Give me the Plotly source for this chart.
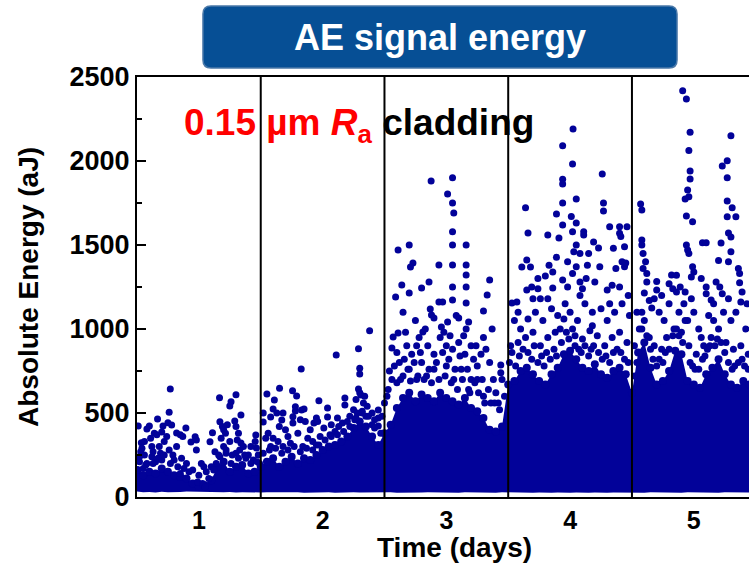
import plotly.graph_objects as go

# dense band of AE hits (upper / lower edge of the solid blue region), per 0.05 day
core_x = [0.50, 0.55, 0.60, 0.65, 0.70, 0.75, 0.80, 0.85, 0.90, 0.95,
          1.00, 1.05, 1.10, 1.15, 1.20, 1.25, 1.30, 1.35, 1.40, 1.45,
          1.50, 1.55, 1.60, 1.65, 1.70, 1.75, 1.80, 1.85, 1.90, 1.95,
          2.00, 2.05, 2.10, 2.15, 2.20, 2.25, 2.30, 2.35, 2.40, 2.45,
          2.50, 2.55, 2.60, 2.65, 2.70, 2.75, 2.80, 2.85, 2.90, 2.95,
          3.00, 3.05, 3.10, 3.15, 3.20, 3.25, 3.30, 3.35, 3.40, 3.45,
          3.50, 3.55, 3.60, 3.65, 3.70, 3.75, 3.80, 3.85, 3.90, 3.95,
          4.00, 4.05, 4.10, 4.15, 4.20, 4.25, 4.30, 4.35, 4.40, 4.45,
          4.50, 4.55, 4.60, 4.65, 4.70, 4.75, 4.80, 4.85, 4.90, 4.95,
          5.00, 5.05, 5.10, 5.15, 5.20, 5.25, 5.30, 5.35, 5.40, 5.45]
core_top = [160, 130, 150, 140, 170, 150, 130, 120, 110, 80,
            60, 70, 100, 180, 210, 150, 180, 190, 140, 150,
            180, 210, 230, 180, 210, 240, 200, 230, 220, 250,
            280, 300, 310, 330, 360, 410, 450, 420, 360, 310,
            380, 430, 530, 590, 620, 570, 610, 590, 570, 620,
            590, 570, 550, 590, 530, 510, 470, 400, 390, 420,
            670, 690, 750, 770, 730, 690, 670, 730, 770, 850,
            870, 820, 770, 750, 790, 730, 710, 750, 770, 730,
            620, 860, 920, 770, 670, 690, 750, 870, 850, 690,
            670, 650, 730, 770, 820, 730, 670, 650, 690, 670]
core_bottom = [32, 28, 30, 27, 31, 29, 28, 30, 33, 35,
               34, 32, 30, 29, 28, 30, 27, 29, 31, 28,
               27, 29, 28, 30, 27, 29, 28, 26, 29, 28,
               27, 28, 26, 28, 27, 29, 27, 28, 26, 28,
               27, 28, 26, 27, 28, 26, 27, 28, 27, 26,
               28, 27, 26, 28, 27, 26, 28, 27, 26, 28,
               27, 26, 28, 27, 26, 27, 28, 26, 27, 28,
               26, 27, 28, 26, 27, 28, 26, 27, 28, 26,
               28, 27, 26, 28, 27, 26, 28, 27, 26, 28,
               27, 26, 28, 27, 26, 28, 27, 26, 28, 27]

# scattered hits above the dense band
day1_x = [0.769, 0.760, 0.666, 0.510, 0.600, 0.750, 0.895, 0.580, 0.710, 0.780,
          0.640, 0.660, 0.700, 0.820, 0.850, 0.870, 0.820, 0.936, 0.970, 0.980,
          0.980, 0.535, 0.540, 0.530, 0.560, 0.620, 0.680, 0.720, 0.740, 0.760,
          0.790, 0.690, 0.650, 0.580, 0.520, 0.620, 0.700, 0.800, 0.860, 0.900,
          0.950, 1.000, 1.020, 1.040, 1.060, 0.990, 1.030, 1.080, 1.090, 1.110,
          1.167, 1.260, 1.250, 1.300, 1.340, 1.170, 1.190, 1.200, 1.230, 1.215,
          1.180, 1.200, 1.220, 1.170, 1.290, 1.300, 1.320, 1.310, 1.340, 1.330,
          1.300, 1.460, 1.455, 1.465, 1.420, 1.400, 1.380, 1.440, 1.130, 1.140,
          1.100, 1.250, 1.270, 1.360, 1.480, 1.490, 0.510, 0.560, 0.610, 0.630,
          0.520, 0.570, 0.630, 0.670, 0.720, 0.770, 0.830, 0.880, 0.920, 1.120,
          1.160, 1.220, 1.260, 1.320, 1.370, 1.420, 1.470, 0.550, 0.850, 1.050]
day1_y = [643, 505, 464, 423, 423, 442, 410, 405, 423, 429,
          380, 370, 387, 381, 370, 360, 300, 327, 359, 340,
          280, 323, 290, 270, 250, 240, 300, 330, 360, 280,
          250, 260, 210, 200, 210, 300, 220, 220, 230, 200,
          160, 130, 200, 180, 150, 90, 80, 110, 329, 383,
          591, 567, 542, 609, 488, 448, 420, 400, 430, 380,
          350, 300, 260, 240, 452, 420, 380, 340, 321, 280,
          260, 369, 330, 292, 300, 250, 230, 220, 270, 200,
          180, 330, 250, 300, 250, 200, 160, 330, 350, 270,
          240, 190, 200, 230, 250, 200, 180, 170, 150, 160,
          250, 280, 200, 230, 250, 200, 210, 170, 140, 60]

day2_x = [1.652, 1.550, 1.757, 1.827, 1.610, 1.790, 1.970, 2.110, 2.290, 2.380,
          2.300, 2.300, 2.290, 2.300, 2.310, 2.180, 2.180, 2.270, 2.330, 2.360,
          2.400, 1.520, 1.520, 1.580, 1.600, 1.630, 1.670, 1.680, 1.780, 1.780,
          1.830, 1.850, 1.760, 1.760, 1.820, 1.860, 1.930, 1.950, 1.960, 2.040,
          2.040, 2.120, 2.160, 2.130, 2.450, 2.450, 2.450, 2.480, 2.420, 2.400,
          2.350, 2.250, 2.220, 2.200, 2.070, 2.010, 1.900, 1.700, 1.650, 1.560,
          1.540, 1.600, 1.640, 1.720, 1.740, 1.800, 1.880, 1.920, 1.980, 2.060,
          2.100, 1.680, 1.580, 1.840, 1.950, 2.320, 2.280, 2.340, 2.260,
          1.520, 1.570, 1.620, 1.670, 1.720, 1.770, 1.820, 1.870, 1.920, 1.970,
          2.020, 2.070, 2.120, 2.170, 2.220, 2.270, 2.320, 2.370, 2.420, 2.470]
day2_y = [647, 613, 633, 762, 577, 601, 573, 845, 883, 990,
          766, 732, 643, 620, 607, 589, 548, 580, 560, 540,
          500, 500, 446, 476, 524, 500, 458, 500, 512, 537,
          518, 524, 478, 440, 460, 450, 441, 470, 450, 476,
          530, 470, 440, 420, 423, 470, 518, 480, 460, 430,
          480, 520, 480, 450, 430, 410, 400, 400, 420, 380,
          350, 350, 330, 360, 320, 380, 350, 330, 360, 370,
          390, 300, 300, 300, 310, 510, 500, 600, 460,
          260, 280, 290, 260, 280, 300, 270, 290, 280, 310,
          340, 360, 370, 390, 420, 470, 500, 480, 410, 380]

day3_x = [2.877, 3.050, 3.010, 3.050, 3.060, 3.050, 3.050, 3.160, 2.610, 2.700,
          2.940, 3.050, 3.160, 3.160, 3.160, 3.160, 3.050, 3.050, 2.730, 2.710,
          2.640, 2.590, 2.860, 3.350, 3.330, 2.940, 2.970, 2.800, 2.700, 2.870,
          2.880, 3.300, 3.370, 3.440, 3.440, 3.450, 2.570, 2.610, 2.560, 3.180,
          3.160, 3.100, 3.080, 3.010, 2.810, 2.960, 2.900, 2.650, 2.750, 2.780,
          2.680, 2.720, 2.620, 2.540, 2.560, 2.850, 2.900, 2.950, 3.000, 3.050,
          3.100, 3.150, 3.200, 3.220, 3.250, 3.280, 3.300, 3.320, 3.350, 3.380,
          3.400, 3.420, 3.250, 3.200, 3.120, 3.000, 2.900, 2.800, 2.700, 2.650,
          2.600, 2.520, 2.500, 2.760, 2.840, 3.060, 3.180, 3.300, 3.360,
          2.530, 2.580, 2.630, 2.660, 2.690, 2.710, 2.740, 2.770, 2.790, 2.820,
          2.860, 2.880, 2.920, 2.940, 2.970, 2.990, 3.020, 3.040, 3.070, 3.090,
          3.110, 3.130, 3.170, 3.190, 3.230, 3.260, 3.290, 3.310, 3.340, 3.390,
          3.430, 3.470, 2.600, 2.760, 2.980, 3.140, 3.240, 2.670, 2.830, 3.030]
day3_y = [1881, 1901, 1804, 1750, 1690, 1579, 1500, 1500, 1470, 1500,
          1381, 1381, 1381, 1321, 1250, 1155, 1250, 1173, 1393, 1369,
          1262, 1190, 1280, 1292, 1202, 1161, 1161, 1244, 1214, 1119,
          1083, 1107, 1000, 786, 740, 700, 952, 976, 887, 1042,
          1000, 1065, 1080, 1042, 982, 1012, 1065, 1100, 1050, 950,
          900, 850, 800, 750, 700, 900, 850, 950, 900, 880,
          920, 850, 900, 820, 780, 850, 950, 880, 800, 700,
          620, 560, 700, 700, 760, 780, 760, 800, 760, 720,
          680, 600, 560, 700, 720, 700, 640, 600, 560,
          640, 780, 700, 820, 760, 690, 800, 720, 860, 700,
          760, 680, 800, 700, 860, 720, 820, 680, 760, 640,
          840, 700, 760, 620, 680, 620, 700, 560, 640, 560,
          520, 600, 860, 900, 980, 960, 900, 980, 1000, 960]

day4_x = [4.024, 3.940, 4.020, 3.940, 3.940, 4.260, 3.640, 3.940, 4.050, 4.270,
          4.270, 3.890, 4.010, 3.940, 4.050, 4.020, 4.110, 4.110, 3.660, 3.820,
          3.910, 4.190, 4.320, 4.400, 4.460, 4.400, 4.410, 4.440, 4.230, 4.050,
          4.030, 4.080, 3.650, 3.890, 3.800, 3.830, 3.860, 3.610, 3.680, 3.860,
          3.650, 3.690, 3.740, 3.700, 3.760, 3.570, 3.530, 3.940, 3.980, 4.020,
          4.080, 4.130, 4.100, 4.200, 4.300, 4.340, 4.400, 4.440, 4.450, 4.050,
          4.140, 4.240, 4.370, 4.420, 3.550, 3.600, 3.720, 3.780, 3.850, 3.900,
          3.960, 4.000, 4.060, 4.120, 4.180, 4.250, 4.300, 4.360, 4.420, 4.480,
          3.520, 3.580, 3.640, 3.700, 3.760, 3.820, 3.880, 3.920, 4.040, 4.100,
          4.160, 4.220, 4.280, 4.340, 4.400, 4.460,
          3.510, 3.530, 3.560, 3.590, 3.620, 3.660, 3.690, 3.710, 3.740, 3.770,
          3.790, 3.810, 3.840, 3.870, 3.890, 3.930, 3.970, 3.990, 4.020, 4.040,
          4.070, 4.090, 4.120, 4.150, 4.170, 4.190, 4.230, 4.260, 4.290, 4.320,
          4.350, 4.380, 4.410, 4.440, 4.470, 3.580, 3.660, 3.820, 3.950, 4.080,
          4.180, 4.320, 4.470, 3.740, 3.980, 4.150, 4.350]
day4_y = [2190, 2091, 1982, 1891, 1863, 1923, 1722, 1750, 1774, 1750,
          1702, 1685, 1669, 1619, 1631, 1579, 1579, 1560, 1571, 1560,
          1542, 1518, 1609, 1609, 1609, 1570, 1550, 1490, 1482, 1500,
          1460, 1450, 1411, 1427, 1315, 1380, 1340, 1369, 1369, 1244,
          1232, 1250, 1240, 1180, 1180, 1161, 1155, 1292, 1250, 1330,
          1280, 1300, 1240, 1280, 1232, 1260, 1250, 1370, 1393, 1370,
          1380, 1370, 1360, 1400, 1050, 1000, 1100, 1050, 1120, 1080,
          1150, 1100, 1050, 1150, 1100, 1120, 1050, 1100, 1150, 1080,
          900, 920, 950, 980, 900, 950, 980, 1000, 960, 940,
          990, 960, 900, 950, 980, 920,
          800, 860, 780, 840, 880, 860, 820, 900, 800, 840,
          780, 860, 820, 880, 840, 920, 980, 940, 1000, 900,
          880, 860, 900, 840, 880, 900, 860, 820, 840, 800,
          860, 880, 860, 820, 800, 1100, 1060, 1180, 1060, 1200,
          1020, 1150, 1200, 1300, 1400, 1450, 1480]

day5_x = [4.910, 4.940, 4.970, 5.300, 4.960, 5.270, 5.230, 4.970, 4.970, 5.270,
          4.950, 4.960, 4.930, 4.570, 4.580, 5.270, 5.310, 4.940, 4.990, 5.270,
          5.340, 5.280, 5.300, 5.070, 5.100, 5.220, 4.580, 4.580, 4.940, 4.950,
          4.960, 5.200, 5.300, 4.590, 4.610, 4.590, 4.620, 4.990, 5.000, 4.980,
          5.280, 5.360, 5.370, 4.820, 4.700, 4.700, 4.800, 4.830, 4.860, 4.890,
          5.100, 5.100, 5.180, 5.210, 5.230, 5.140, 5.370, 5.390, 5.380, 4.600,
          4.640, 4.660, 4.540, 4.720, 4.760, 4.800, 4.880, 4.920, 4.950, 5.000,
          5.040, 5.060, 5.120, 5.160, 5.240, 5.300, 5.340, 5.420, 4.520, 4.580,
          4.640, 4.680, 4.740, 4.780, 4.840, 4.900, 4.960, 5.020, 5.080, 5.140,
          5.200, 5.260, 5.320, 5.380, 5.440,
          4.520, 4.540, 4.560, 4.580, 4.600, 4.620, 4.650, 4.670, 4.700, 4.720,
          4.750, 4.770, 4.800, 4.830, 4.860, 4.880, 4.910, 4.930, 4.970, 4.990,
          5.010, 5.040, 5.070, 5.090, 5.110, 5.130, 5.170, 5.190, 5.220, 5.250,
          5.280, 5.310, 5.330, 5.360, 5.390, 5.410, 5.440, 4.620, 4.680, 4.740,
          4.930, 4.980, 5.160, 5.280, 5.430, 5.060, 4.860]
day5_y = [2418, 2369, 2171, 2151, 2062, 2002, 1970, 1940, 1893, 1901,
          1827, 1787, 1774, 1744, 1708, 1762, 1722, 1673, 1639, 1668,
          1668, 1571, 1548, 1514, 1514, 1512, 1530, 1500, 1500, 1470,
          1450, 1407, 1460, 1450, 1400, 1360, 1330, 1370, 1340, 1310,
          1400, 1360, 1330, 1321, 1282, 1232, 1270, 1240, 1220, 1250,
          1250, 1210, 1280, 1250, 1210, 1173, 1276, 1220, 1160, 1215,
          1170, 1125, 1100, 1100, 1050, 1150, 1100, 1150, 1050, 1100,
          1000, 950, 1080, 1050, 1100, 1050, 1100, 1000, 900, 1000,
          950, 900, 880, 950, 1000, 980, 900, 850, 900, 950,
          1000, 920, 880, 900, 850,
          720, 800, 1000, 1100, 1050, 960, 880, 820, 780, 820,
          800, 860, 880, 960, 1000, 960, 920, 1050, 800, 780,
          760, 760, 820, 840, 880, 900, 900, 940, 920, 860,
          800, 760, 780, 800, 820, 780, 760, 1280, 1180, 1200,
          1220, 1180, 1150, 1180, 1150, 1300, 1320]

day_ticks = [1, 2, 3, 4, 5]
day_bounds = [1.5, 2.5, 3.5, 4.5]

blue = "#020299"
font = "Liberation Sans, Arial, sans-serif"

fig = go.Figure()

fig.add_trace(
    go.Scatter(
        x=core_x + core_x[::-1],
        y=core_top + core_bottom[::-1],
        fill="toself",
        fillcolor=blue,
        line=dict(width=0, color=blue),
        mode="lines",
        hoverinfo="skip",
        showlegend=False,
    )
)

# hits sitting on the edge of the dense band, so the edge reads as dots
fig.add_trace(
    go.Scatter(
        x=core_x, y=core_top, mode="markers",
        marker=dict(color=blue, size=8, line=dict(width=0)),
        showlegend=False,
    )
)

for xs, ys in [(day1_x, day1_y), (day2_x, day2_y), (day3_x, day3_y),
               (day4_x, day4_y), (day5_x, day5_y)]:
    fig.add_trace(
        go.Scatter(
            x=xs,
            y=ys,
            mode="markers",
            marker=dict(color=blue, size=7, line=dict(width=0)),
            showlegend=False,
        )
    )

# day separators
for b in day_bounds:
    fig.add_shape(
        type="line", xref="x", yref="paper", x0=b, x1=b, y0=0, y1=1,
        line=dict(color="black", width=2), layer="above",
    )

# title box, rounded
x0, x1, y0, y1 = 0.1078, 0.8824, 1.0214, 1.169
rx, ry = 0.013, 0.019
path = (
    f"M {x0 + rx},{y0} L {x1 - rx},{y0} Q {x1},{y0} {x1},{y0 + ry} "
    f"L {x1},{y1 - ry} Q {x1},{y1} {x1 - rx},{y1} "
    f"L {x0 + rx},{y1} Q {x0},{y1} {x0},{y1 - ry} "
    f"L {x0},{y0 + ry} Q {x0},{y0} {x0 + rx},{y0} Z"
)
fig.add_shape(
    type="path", path=path, xref="paper", yref="paper",
    fillcolor="#064f95", line=dict(color="#4a78a8", width=1.5),
)

fig.add_annotation(
    x=0.4951, y=1.0952, xref="paper", yref="paper",
    text="<b>AE signal energy</b>", showarrow=False,
    font=dict(family=font, size=36, color="white"),
    xanchor="center", yanchor="middle",
)

fig.add_annotation(
    x=0.074, y=0.885, xref="paper", yref="paper",
    text=("<b><span style='color:#ff0000'>0.15 µm <i>R</i><sub>a</sub></span>"
          " cladding</b>"),
    showarrow=False,
    font=dict(family=font, size=37, color="black"),
    xanchor="left", yanchor="middle",
)

# x axis title, centred where the original sits
fig.add_annotation(
    x=0.5196, y=-0.1214, xref="paper", yref="paper",
    text="<b>Time (days)</b>", showarrow=False,
    font=dict(family=font, size=28, color="black"),
    xanchor="center", yanchor="middle",
)

fig.update_layout(
    width=749,
    height=568,
    margin=dict(l=137, r=0, t=77, b=71),
    paper_bgcolor="white",
    plot_bgcolor="white",
    font=dict(family=font, color="black"),
    xaxis=dict(
        range=[0.5, 5.446],
        tickvals=day_ticks,
        ticktext=[f"<b>{d}</b>" for d in day_ticks],
        tickfont=dict(size=25),
        ticks="",
        showline=True, linecolor="black", linewidth=2, mirror=True,
        showgrid=False, zeroline=False,
    ),
    yaxis=dict(
        range=[0, 2500],
        tickvals=[0, 500, 1000, 1500, 2000, 2500],
        ticktext=["<b>0</b>", "<b>500</b>", "<b>1000</b>", "<b>1500</b>",
                  "<b>2000</b>", "<b>2500</b>"],
        tickfont=dict(size=27),
        ticks="inside", ticklen=9, tickwidth=2, tickcolor="black",
        minor=dict(tickvals=[250, 750, 1250, 1750, 2250], ticks="inside",
                   ticklen=5, tickwidth=2, tickcolor="black"),
        showline=True, linecolor="black", linewidth=2,
        showgrid=False, zeroline=False,
        title=dict(text="<b>Absolute Energy (aJ)</b>", font=dict(size=28),
                   standoff=23),
    ),
)

fig.write_html(
    "out.html",
    config={"displayModeBar": False},
    post_script="document.body.style.margin='0';",
)
